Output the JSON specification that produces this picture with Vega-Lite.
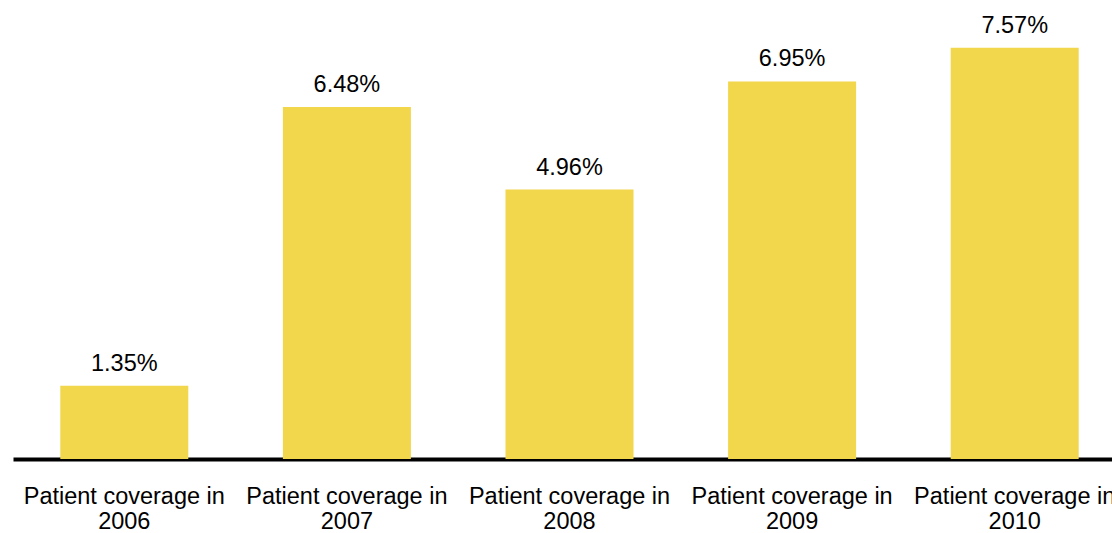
{
  "$schema": "https://vega.github.io/schema/vega-lite/v6.json",
  "width": 1113,
  "height": 459,
  "padding": {"left": 13, "top": 0, "right": 0, "bottom": 0},
  "background": "white",
  "config": {"view": {"stroke": null}, "font": "Liberation Sans"},
  "data": {
    "values": [
      {"category": "Patient coverage in 2006", "coverage": 0.0135},
      {"category": "Patient coverage in 2007", "coverage": 0.0648},
      {"category": "Patient coverage in 2008", "coverage": 0.0496},
      {"category": "Patient coverage in 2009", "coverage": 0.0695},
      {"category": "Patient coverage in 2010", "coverage": 0.0757}
    ]
  },
  "encoding": {
    "x": {
      "field": "category",
      "type": "nominal",
      "sort": null,
      "title": null,
      "scale": {"paddingInner": 0.425, "paddingOuter": 0.2125},
      "axis": {
        "labelAngle": 0,
        "labelFontSize": 23.5,
        "labelColor": "#000000",
        "labelFont": "Liberation Sans",
        "labelLineHeight": 25,
        "labelPadding": 25,
        "labelBaseline": "top",
        "labelLimit": 400,
        "labelExpr": "[slice(datum.label, 0, 19), slice(datum.label, 20)]",
        "ticks": false,
        "domainColor": "#000000",
        "domainWidth": 4
      }
    },
    "y": {
      "field": "coverage",
      "type": "quantitative",
      "scale": {"domain": [0, 0.0845], "nice": false},
      "axis": null
    }
  },
  "layer": [
    {"mark": {"type": "bar", "color": "#F2D64B"}},
    {
      "mark": {"type": "text", "dy": -15, "baseline": "alphabetic", "fontSize": 23.5, "color": "#000000", "font": "Liberation Sans"},
      "encoding": {"text": {"field": "coverage", "type": "quantitative", "format": ".2%"}}
    }
  ]
}
